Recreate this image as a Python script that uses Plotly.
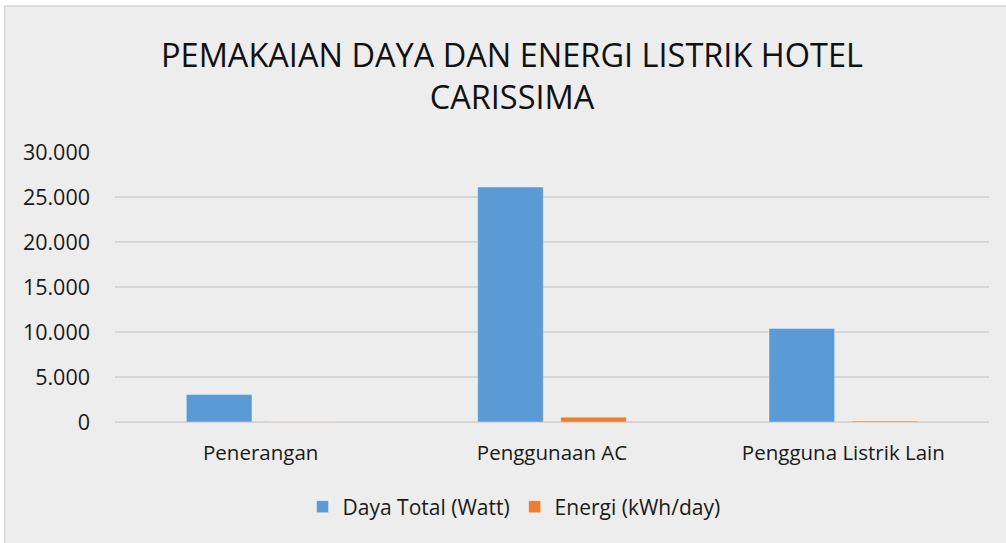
import plotly.graph_objects as go

categories = ["Penerangan", "Penggunaan AC", "Pengguna Listrik Lain"]
daya_total = [3050, 26100, 10400]
energi = [40, 540, 100]
series_names = ["Daya Total (Watt)", "Energi (kWh/day)"]
y_ticks = [0, 5000, 10000, 15000, 20000, 25000, 30000]

W, H = 1006, 543
L, R, T, B = 114.5, 16.5, 152, 121
pw = W - L - R
ph = H - T - B

def px_x(p):
    return (p - L) / pw

def px_y(p):
    return (H - B - p) / ph

fig = go.Figure()
fig.add_trace(go.Bar(x=categories, y=daya_total, name=series_names[0],
                     marker=dict(color="#5B9BD5", line=dict(color="rgba(255,255,255,0.35)", width=1))))
fig.add_trace(go.Bar(x=categories, y=energi, name=series_names[1],
                     marker=dict(color="#ED7D31", line=dict(color="rgba(255,255,255,0.35)", width=1))))

fig.add_shape(type="rect", xref="paper", yref="paper",
              x0=px_x(4), x1=px_x(1012), y0=px_y(549), y1=px_y(6),
              fillcolor="#EDEDED", line=dict(color="#D6D6D6", width=1.5), layer="below")

font_family = "Open Sans, Lato, sans-serif"
fig.update_layout(
    width=W, height=H,
    margin=dict(l=L, r=R, t=T, b=B, pad=0),
    paper_bgcolor="white",
    plot_bgcolor="rgba(0,0,0,0)",
    separators=",.",
    barmode="group",
    bargap=0.43,
    bargroupgap=0.21,
    title=dict(text="PEMAKAIAN DAYA DAN ENERGI LISTRIK HOTEL<br>CARISSIMA",
               x=512 / W, xanchor="center", xref="container",
               y=1 - 66.5 / H, yanchor="middle", yref="container",
               font=dict(family=font_family, size=32.5, color="#111111")),
    font=dict(family=font_family, color="#1a1a1a"),
    legend=dict(orientation="h", x=px_x(514), xanchor="center",
                y=px_y(507), yanchor="middle",
                font=dict(size=21, color="#1a1a1a"),
                bgcolor="rgba(0,0,0,0)", itemwidth=30, traceorder="normal"),
    xaxis=dict(showgrid=False, showline=False, ticks="",
               tickfont=dict(size=20.5, color="#1a1a1a"), ticklabelstandoff=16),
    yaxis=dict(range=[0, 30000], tickvals=y_ticks, tickformat=",d",
               showgrid=True, gridcolor="#D6D6D6", gridwidth=1.5,
               zeroline=True, zerolinecolor="#D6D6D6", zerolinewidth=1.5,
               showline=False, ticks="",
               tickfont=dict(size=21.5, color="#1a1a1a"), ticklabelstandoff=24),
)

fig.write_html("out.html", config={"displayModeBar": False},
               post_script="document.body.style.margin='0';document.body.style.overflow='hidden';")
